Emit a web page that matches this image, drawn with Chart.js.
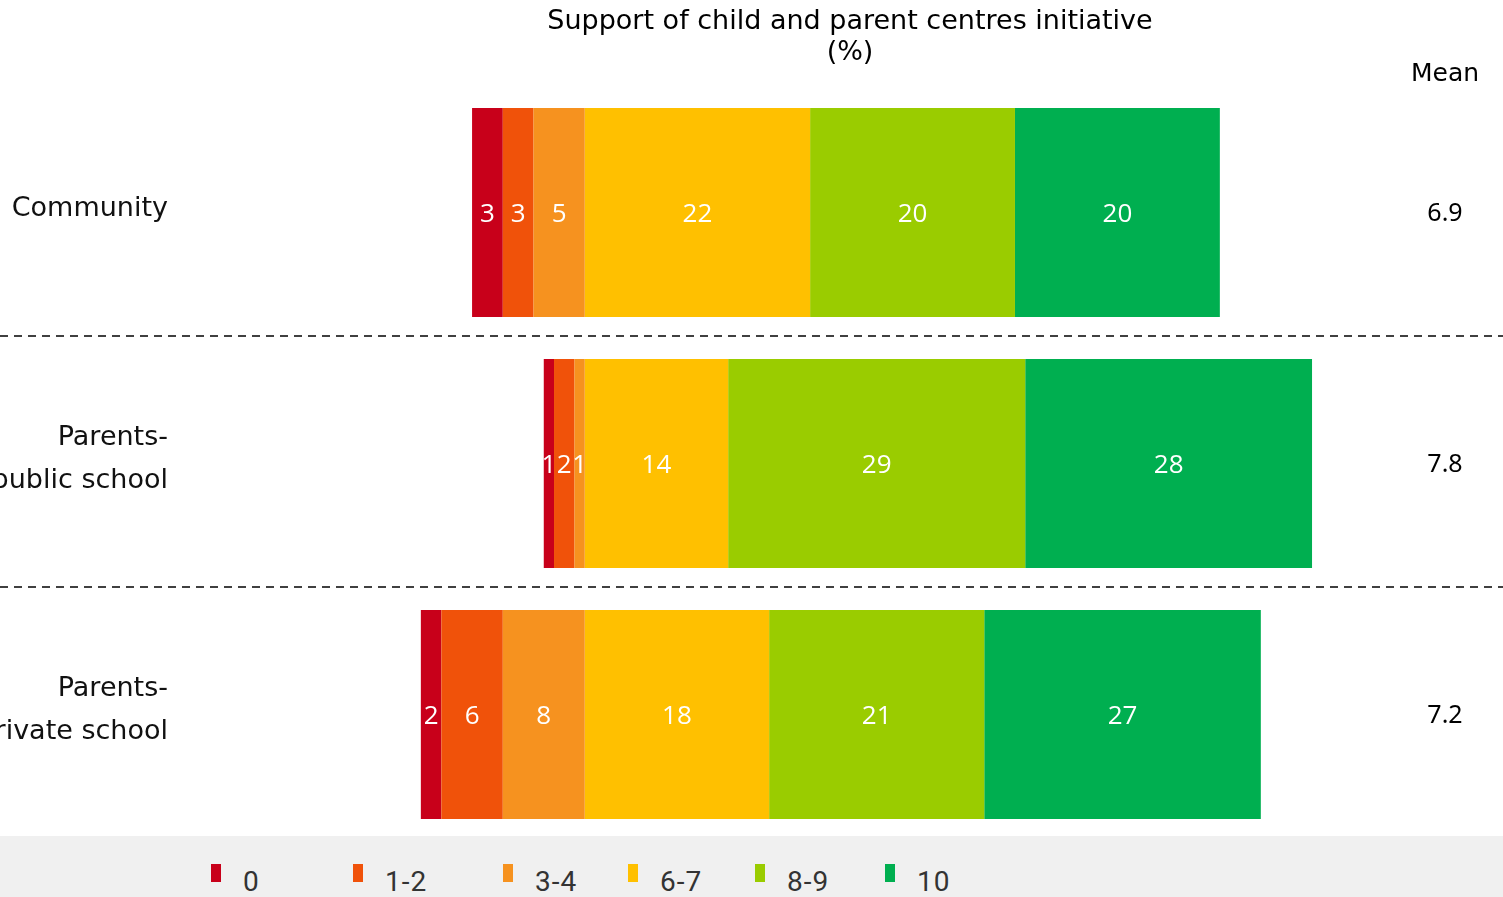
<!DOCTYPE html>
<html>
<head>
<meta charset="utf-8">
<title>Support of child and parent centres initiative</title>
<script src="https://cdn.jsdelivr.net/npm/chart.js@4.4.1/dist/chart.umd.min.js"></script>
<style>
    html, body { margin: 0; padding: 0; background: #fff; overflow: hidden; }
    #wrap { position: relative; width: 1503px; height: 897px; }
    #chart { position: absolute; left: 0; top: 0; }
    #legend {
        position: absolute; left: 0; top: 836px; width: 1503px; height: 61px;
        background: #f0f0f0; overflow: hidden;
    }
    .item { position: absolute; top: 0; height: 61px; }
    .item .box { position: absolute; left: 0; top: 28px; width: 10px; height: 18px; }
    .item .txt {
        position: absolute; left: 32px; top: 32px; line-height: 28px; white-space: nowrap;
        font-family: Roboto, "Liberation Sans", sans-serif; font-size: 28px; color: #333;
        letter-spacing: 1px;
    }
</style>
</head>
<body>
<div id="wrap">
    <canvas id="chart" width="1503" height="897"></canvas>
    <div id="legend"></div>
</div>
<script>
// categories and series
const categories = [['Community'], ['Parents-', 'public school'], ['Parents-', 'private school']];
const seriesNames = ['0', '1-2', '3-4', '6-7', '8-9', '10'];
const seriesColors = ['#c8001a', '#f0520a', '#f6921f', '#ffc000', '#9acc00', '#00af50'];
const val0 = [3, 1, 2];
const val12 = [3, 2, 6];
const val34 = [5, 1, 8];
const val67 = [22, 14, 18];
const val89 = [20, 29, 21];
const val10 = [20, 28, 27];
const means = [6.9, 7.8, 7.2];

const titleLines = ['Support of child and parent centres initiative', '(%)'];
const meanHeader = 'Mean';
const legendX = [211, 353, 503, 628, 755, 885];

// disagreeing groups go to the left of zero, closest-to-zero first so they stack outwards
const seriesValues = [val0, val12, val34, val67, val89, val10];
const negative = [true, true, true, false, false, false];
const stackOrder = [2, 1, 0, 3, 4, 5];

const datasets = stackOrder.map(i => ({
    label: seriesNames[i],
    data: seriesValues[i].map(v => negative[i] ? -v : v),
    backgroundColor: seriesColors[i],
    borderWidth: 0,
    categoryPercentage: 1,
    barPercentage: 0.833
}));

const barLabels = {
    id: 'barLabels',
    afterDatasetsDraw(chart) {
        const ctx = chart.ctx;
        ctx.save();
        ctx.font = '26px "Open Sans", "Noto Sans", sans-serif';
        ctx.fillStyle = '#fff';
        ctx.textAlign = 'center';
        ctx.textBaseline = 'middle';
        chart.data.datasets.forEach((ds, di) => {
            chart.getDatasetMeta(di).data.forEach((bar, i) => {
                const p = bar.getCenterPoint();
                ctx.fillText(String(Math.abs(ds.data[i])), p.x, p.y + 2);
            });
        });
        ctx.restore();
    }
};

const extras = {
    id: 'extras',
    afterDraw(chart) {
        const ctx = chart.ctx;
        const y = chart.scales.y;
        ctx.save();
        // title
        ctx.fillStyle = '#000';
        ctx.font = '27px "DejaVu Sans", Verdana, sans-serif';
        ctx.textAlign = 'center';
        ctx.textBaseline = 'middle';
        ctx.fillText(titleLines[0], 850, 22);
        ctx.fillText(titleLines[1], 850, 53);
        // mean column
        ctx.font = '25px "DejaVu Sans", Verdana, sans-serif';
        ctx.fillText(meanHeader, 1445, 74);
        ctx.font = '25px "Noto Sans", "Open Sans", sans-serif';
        means.forEach((m, i) => {
            ctx.fillText(m.toFixed(1), 1445, y.getPixelForValue(i) + 1);
        });
        // dashed separators between groups
        ctx.strokeStyle = '#404040';
        ctx.lineWidth = 2;
        ctx.setLineDash([8, 6]);
        for (let i = 1; i < categories.length; i++) {
            const yy = Math.round((y.getPixelForValue(i - 1) + y.getPixelForValue(i)) / 2) - 2;
            ctx.beginPath();
            ctx.moveTo(0, yy);
            ctx.lineTo(chart.width, yy);
            ctx.stroke();
        }
        ctx.restore();
    }
};

new Chart(document.getElementById('chart'), {
    type: 'bar',
    data: { labels: categories, datasets: datasets },
    options: {
        indexAxis: 'y',
        responsive: false,
        animation: false,
        layout: { padding: { top: 87, bottom: 57, left: 0, right: 129.5 } },
        plugins: {
            legend: { display: false },
            title: { display: false },
            tooltip: { enabled: false }
        },
        scales: {
            x: {
                stacked: true,
                display: false,
                min: -40,
                max: 77
            },
            y: {
                stacked: true,
                grid: { display: false, drawTicks: false },
                border: { display: false },
                ticks: {
                    padding: 7,
                    labelOffset: -4,
                    color: '#111',
                    font: { family: '"DejaVu Sans", Verdana, sans-serif', size: 27, lineHeight: 1.6 }
                },
                afterFit(scale) { scale.width = 175; }
            }
        }
    },
    plugins: [barLabels, extras]
});

// legend strip along the bottom
const legend = document.getElementById('legend');
seriesNames.forEach((name, i) => {
    const item = document.createElement('div');
    item.className = 'item';
    item.style.left = legendX[i] + 'px';
    item.innerHTML = `<span class="box" style="background:${seriesColors[i]}"></span><span class="txt">${name}</span>`;
    legend.appendChild(item);
});
</script>
</body>
</html>
